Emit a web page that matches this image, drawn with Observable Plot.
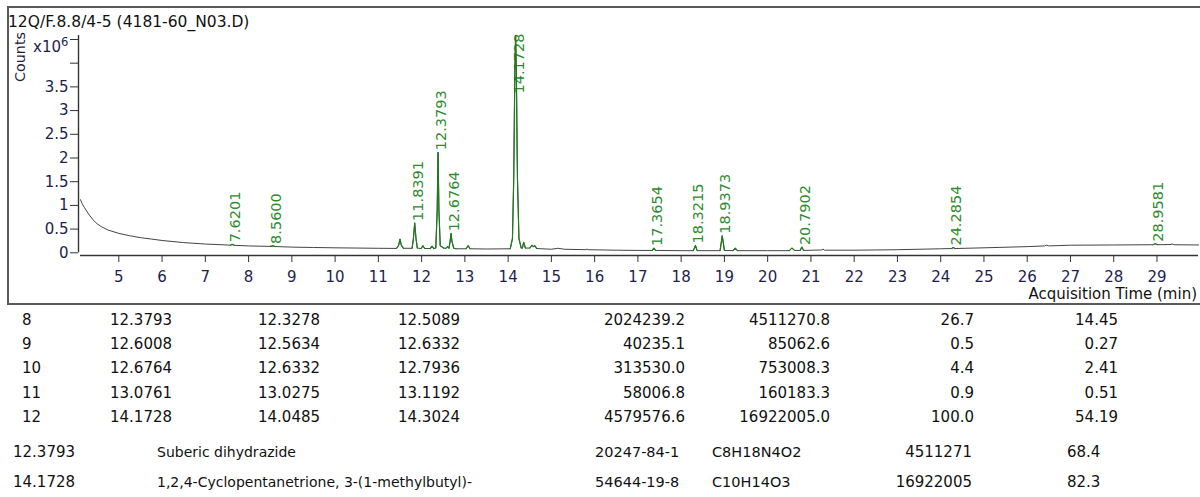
<!DOCTYPE html>
<html><head><meta charset="utf-8">
<script src="https://cdn.jsdelivr.net/npm/d3@7"></script>
<script src="https://cdn.jsdelivr.net/npm/@observablehq/plot@0.6"></script>
<style>
body{margin:0;background:#fff;}
#wrap{position:relative;width:1200px;height:497px;overflow:hidden;font-family:"DejaVu Sans",sans-serif;}
#wrap svg{position:absolute;left:0;top:0;}
#frame{position:absolute;left:7px;top:6px;width:1200px;height:295px;border:2px solid #5a5a5a;}
</style></head><body><div id="wrap"><div id="frame"></div></div>
<script>
// ---- chromatogram trace (acquisition time, counts x10^6) ----
const times = [4.114,4.15,4.2,4.3,4.4,4.5,4.6,4.75,5.0,5.25,5.5,5.75,6.0,6.5,7.0,7.5,7.58,7.62,7.67,8.0,8.5,8.56,8.62,9.0,9.5,10.0,10.5,11.0,11.42,11.47,11.5,11.53,11.58,11.78,11.81,11.84,11.87,11.9,11.99,12.03,12.07,12.2,12.24,12.28,12.3278,12.36,12.38,12.40,12.43,12.5089,12.5634,12.6,12.6332,12.66,12.68,12.70,12.74,12.7936,13.0275,13.076,13.1192,13.5,14.0485,14.1,14.13,14.155,14.173,14.19,14.215,14.25,14.3024,14.33,14.36,14.4,14.5,14.55,14.58,14.62,14.66,15.0,15.15,15.3,15.8,15.82,15.85,16.5,17.0,17.33,17.37,17.41,18.0,18.28,18.33,18.37,18.9,18.95,19.0,19.2,19.25,19.3,20.0,20.5,20.56,20.62,20.75,20.79,20.83,21.25,21.28,21.31,22.0,22.5,23.0,24.0,24.25,24.29,24.33,25.0,26.0,26.4,26.45,26.5,27.0,28.0,28.9,28.96,29.02,29.3,29.35,29.4,29.96];
const counts = [1.12,1.04,0.96,0.82,0.70,0.61,0.55,0.48,0.41,0.36,0.32,0.29,0.26,0.215,0.185,0.165,0.16,0.178,0.158,0.145,0.135,0.145,0.132,0.12,0.112,0.105,0.1,0.095,0.092,0.16,0.29,0.16,0.095,0.095,0.3,0.63,0.3,0.1,0.09,0.15,0.09,0.09,0.14,0.09,0.1,0.9,2.12,0.9,0.15,0.1,0.095,0.13,0.1,0.25,0.41,0.25,0.1,0.085,0.085,0.15,0.085,0.08,0.085,0.3,1.6,3.8,4.58,3.8,1.6,0.3,0.1,0.1,0.22,0.1,0.1,0.16,0.13,0.15,0.09,0.075,0.095,0.075,0.065,0.08,0.065,0.055,0.05,0.05,0.1,0.05,0.045,0.045,0.155,0.045,0.045,0.36,0.05,0.045,0.1,0.045,0.045,0.045,0.1,0.05,0.05,0.12,0.05,0.06,0.08,0.055,0.055,0.06,0.065,0.085,0.09,0.11,0.09,0.105,0.13,0.145,0.16,0.145,0.16,0.165,0.17,0.19,0.17,0.175,0.185,0.17,0.165];
// integrated peaks (drawn green): start / end times
const intStart = [7.58,8.5,11.42,11.78,11.99,12.2,12.3278,12.5634,12.6332,13.0275,14.0485,14.33,14.5,17.33,18.28,18.9,19.2,20.5,20.75,24.25,28.9];
const intEnd   = [7.67,8.62,11.58,11.9,12.07,12.28,12.5089,12.6332,12.7936,13.1192,14.3024,14.4,14.66,17.41,18.37,19.0,19.3,20.62,20.83,24.33,29.02];
// labelled peak retention times
const labelRT = [7.6201,8.5600,11.8391,12.3793,12.6764,14.1728,17.3654,18.3215,18.9373,20.7902,24.2854,28.9581];
const xTicks = [5,6,7,8,9,10,11,12,13,14,15,16,17,18,19,20,21,22,23,24,25,26,27,28,29];
const yTicks = [0,0.5,1,1.5,2,2.5,3,3.5,4,4.5];

// ---- integration table ----
const peakNo   = [8,9,10,11,12];
const peakRT   = [12.3793,12.6008,12.6764,13.0761,14.1728];
const startRT  = [12.3278,12.5634,12.6332,13.0275,14.0485];
const endRT    = [12.5089,12.6332,12.7936,13.1192,14.3024];
const heights  = [2024239.2,40235.1,313530.0,58006.8,4579576.6];
const areas    = [4511270.8,85062.6,753008.3,160183.3,16922005.0];
const pctMax   = [26.7,0.5,4.4,0.9,100.0];
const pctTotal = [14.45,0.27,2.41,0.51,54.19];
// ---- library hits ----
const hitRT      = [12.3793,14.1728];
const hitName    = ["Suberic dihydrazide","1,2,4-Cyclopentanetrione, 3-(1-methylbutyl)-"];
const hitCAS     = ["20247-84-1","54644-19-8"];
const hitFormula = ["C8H18N4O2","C10H14O3"];
const hitArea    = [4511271,16922005];
const hitScore   = [68.4,82.3];

const FONT = '"DejaVu Sans", sans-serif';
const trace = times.map((t,i)=>({t, v:counts[i]}));
const green = [];
intStart.forEach((s,k)=>trace.forEach(d=>{ if(d.t>=s-1e-6 && d.t<=intEnd[k]+1e-6) green.push({t:d.t,v:d.v,k}); }));
const apexOf = rt => d3.max(trace.filter(d=>Math.abs(d.t-rt)<=0.03), d=>d.v);
const xDom = [4.114,29.96], yDom = [-0.057,4.584];
const labels = labelRT.map(rt=>({rt, v:apexOf(rt), text:rt.toFixed(4)}));
const tall = d => d.v + 1.3 > yDom[1];

const chart = Plot.plot({
  width:1200, height:305, marginLeft:80, marginRight:2, marginTop:35, marginBottom:50,
  style:{fontFamily:FONT, fontSize:"15px", background:"transparent", overflow:"visible"},
  x:{domain:xDom}, y:{domain:yDom},
  marks:[
    Plot.ruleY([yDom[0]],{stroke:"#333", strokeWidth:1.4}),
    Plot.ruleX([xDom[0]],{y1:0, y2:yDom[1], dx:-2, stroke:"#333", strokeWidth:1.4}),
    Plot.axisX({ticks:xTicks, tickSize:7, tickPadding:9, label:null, fill:"#1e1e50", stroke:"#333", fontSize:15, tickFormat:d=>String(d)}),
    Plot.axisY({ticks:yTicks, tickSize:8, tickPadding:2, dx:-2, label:null, fill:"#1e1e50", stroke:"#333", fontSize:15, tickFormat:d=>d<=3.5?String(d):""}),
    Plot.text(labels.filter(d=>!tall(d)),{x:"rt", y:"v", text:"text", rotate:-90, textAnchor:"start", lineAnchor:"middle", dx:3.5, dy:-2, fill:"#2e8b2e", fontSize:14.5}),
    Plot.text(labels.filter(tall),{x:"rt", frameAnchor:"top", text:"text", rotate:-90, textAnchor:"end", lineAnchor:"middle", dx:3.5, dy:-2, fill:"#2e8b2e", fontSize:14.5}),
    Plot.line(trace,{x:"t", y:"v", stroke:"#444", strokeWidth:1}),
    Plot.line(green,{x:"t", y:"v", z:"k", stroke:"#1f7a1f", strokeWidth:1.2})
  ]
});
const wrap = document.getElementById("wrap");
wrap.insertBefore(chart, wrap.firstChild);

// ---- overlay texts and tables ----
const svg = d3.select(wrap).append("svg").attr("width",1200).attr("height",497)
  .style("pointer-events","none").attr("font-family",FONT);
svg.append("text").attr("x",8).attr("y",27).attr("font-size",15.5).attr("fill","#111")
  .text("12Q/F.8.8/4-5 (4181-60_N03.D)");
svg.append("text").attr("transform","translate(25,57) rotate(-90)").attr("text-anchor","middle")
  .attr("font-size",14.3).attr("fill","#1e1e40").text("Counts");
const xt = svg.append("text").attr("x",33).attr("y",52).attr("font-size",15).attr("fill","#1e1e50");
xt.append("tspan").text("x10");
xt.append("tspan").attr("dy",-6).attr("font-size",11.5).text("6");
svg.append("text").attr("x",1197).attr("y",298.5).attr("text-anchor","end").attr("font-size",15)
  .attr("fill","#111").text("Acquisition Time (min)");

const tcols = [
  {v:peakNo,   f:d=>String(d),   x:22,  a:"start"},
  {v:peakRT,   f:d=>d.toFixed(4),x:110, a:"start"},
  {v:startRT,  f:d=>d.toFixed(4),x:258, a:"start"},
  {v:endRT,    f:d=>d.toFixed(4),x:398, a:"start"},
  {v:heights,  f:d=>d.toFixed(1),x:685, a:"end"},
  {v:areas,    f:d=>d.toFixed(1),x:830, a:"end"},
  {v:pctMax,   f:d=>d.toFixed(1),x:974, a:"end"},
  {v:pctTotal, f:d=>d.toFixed(2),x:1118,a:"end"}
];
tcols.forEach(c=>{
  svg.append("g").selectAll("text").data(c.v).join("text")
    .attr("x",c.x).attr("y",(d,i)=>325+i*24.2).attr("text-anchor",c.a)
    .attr("font-size",15).attr("fill","#111").text(c.f);
});
const hcols = [
  {v:hitRT,      f:d=>d.toFixed(4), x:13,  a:"start", s:15},
  {v:hitName,    f:d=>d,            x:157, a:"start", s:14},
  {v:hitCAS,     f:d=>d,            x:595, a:"start", s:14.5},
  {v:hitFormula, f:d=>d,            x:712, a:"start", s:14.5},
  {v:hitArea,    f:d=>String(d),    x:972, a:"end",   s:15},
  {v:hitScore,   f:d=>d.toFixed(1), x:1067,a:"start", s:15}
];
hcols.forEach(c=>{
  svg.append("g").selectAll("text").data(c.v).join("text")
    .attr("x",c.x).attr("y",(d,i)=>457+i*30).attr("text-anchor",c.a)
    .attr("font-size",c.s).attr("fill","#111").text(c.f);
});
</script></body></html>
